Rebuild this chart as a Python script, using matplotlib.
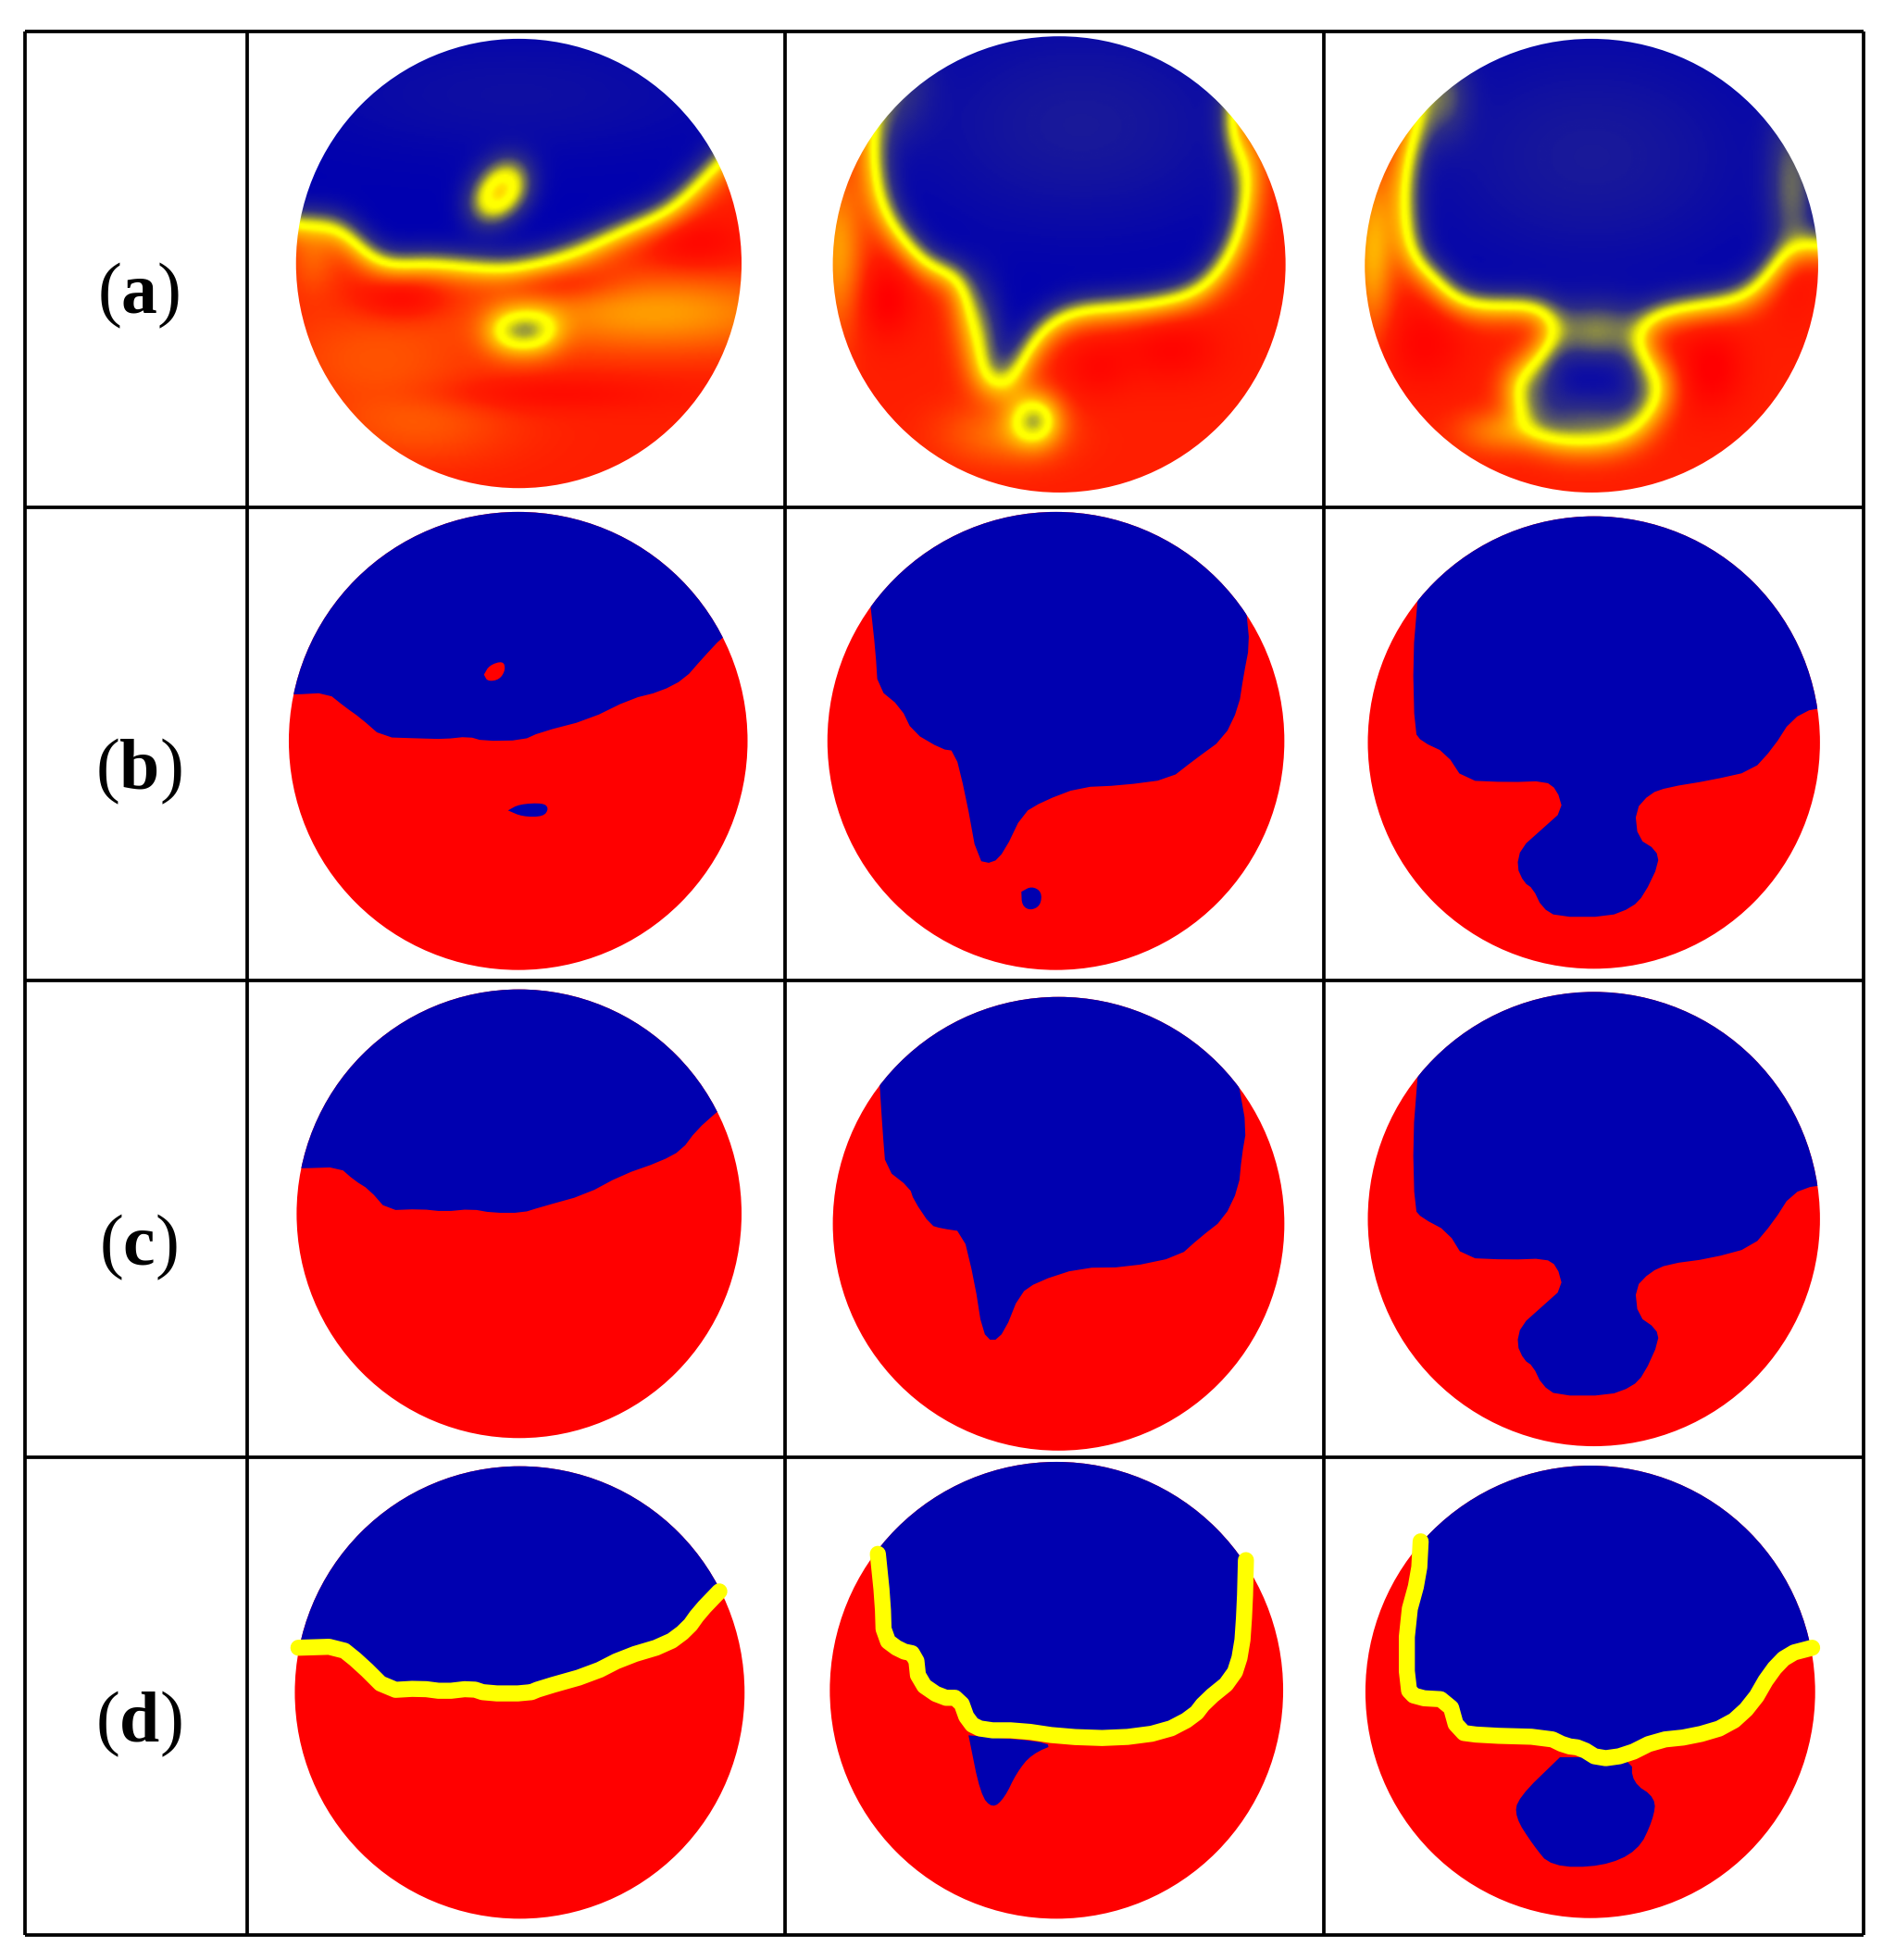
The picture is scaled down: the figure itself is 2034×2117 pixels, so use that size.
import numpy as np
import matplotlib
matplotlib.use("Agg")
import matplotlib.pyplot as plt
from matplotlib.patches import Ellipse, Polygon
from matplotlib.path import Path
from matplotlib.colors import LinearSegmentedColormap

plt.rcParams['mathtext.fontset'] = 'custom'
plt.rcParams['mathtext.rm'] = 'Liberation Serif'
plt.rcParams['mathtext.bf'] = 'Liberation Serif:bold'
plt.rcParams['font.family'] = ['Liberation Serif']

W_UNITS, H_UNITS = 3136, 3132   # picture measured in reading units
HALF = 1568

ROW_LABELS = ['a', 'b', 'c', 'd']
LABEL_Y = [473, 1233, 1993, 2755]
LABEL_X = 231
GRID_X = [41, 412, 1308, 2205, 3103]
GRID_Y = [50, 810, 1567, 2328, 3092]

# disc extents: x0, x1, y0, y1 per row and column
DISCS = [
    [(493, 1235, 62, 780), (1387, 2141, 58, 787), (2273, 3028, 62, 787)],
    [(481, 1245, 818, 1550), (1378, 2139, 818, 1550), (2278, 3031, 825, 1548)],
    [(494, 1235, 1581, 2298), (1387, 2139, 1593, 2318), (2278, 3031, 1585, 2311)],
    [(491, 1240, 2343, 3066), (1382, 2137, 2336, 3066), (2274, 3023, 2342, 3065)],
]


def shift(points, dx=0, dy=0):
    return [(x + dx, y + dy) for x, y in points]


# ---- boundary traces -------------------------------------------------------
A1 = [(300, 355), (497, 355), (555, 355), (580, 380), (635, 430), (700, 422), (760, 425),
      (800, 430), (870, 430), (960, 405), (1040, 370), (1110, 345), (1150, 310), (1195, 265), (1300, 170)]
A2 = [(1450, 240), (1465, 340), (1530, 420), (1568, 440)] + shift(
    [(30, 430), (45, 530), (65, 625), (90, 632), (120, 610), (150, 550), (190, 510), (235, 497),
     (300, 495), (380, 485), (440, 465), (490, 400), (510, 330), (520, 260), (500, 210)], HALF)
A3 = shift([(790, 190), (770, 260), (768, 340), (780, 420), (820, 445), (850, 485), (900, 492),
            (1000, 490), (1020, 520), (1000, 560), (950, 600), (945, 630), (970, 680), (1010, 708),
            (1100, 712), (1160, 695), (1200, 650), (1210, 600), (1165, 560), (1165, 525), (1200, 500),
            (1260, 492), (1340, 480), (1380, 440), (1420, 400), (1460, 395), (1560, 395)], HALF)

B1 = [(400, 1110), (488, 1110), (545, 1107), (575, 1130), (600, 1147), (637, 1178), (700, 1180),
      (740, 1181), (780, 1177), (805, 1184), (870, 1183), (900, 1170), (980, 1150), (1050, 1117),
      (1100, 1105), (1140, 1085), (1170, 1052), (1203, 1018), (1290, 950)]
B1_RED = [(806, 1078), (815, 1063), (838, 1056), (842, 1070), (832, 1086), (812, 1089)]
B1_BLUE = [(846, 1295), (865, 1285), (905, 1283), (914, 1292), (905, 1305), (870, 1305)]
B2 = [(1450, 970), (1458, 1040), (1462, 1100), (1500, 1130), (1520, 1170), (1568, 1197)] + shift(
    [(22, 1200), (40, 1270), (60, 1375), (85, 1380), (105, 1360), (135, 1300), (170, 1280), (230, 1258),
     (300, 1255), (380, 1245), (420, 1215), (470, 1180), (495, 1130), (503, 1080), (513, 1030), (508, 980)], HALF)
B2_BLUE = shift([(133, 1425), (150, 1416), (167, 1425), (165, 1447), (148, 1455), (134, 1447)], HALF)
B3 = shift([(793, 958), (785, 1050), (788, 1170), (800, 1185), (840, 1203), (870, 1247), (945, 1250),
            (1005, 1248), (1025, 1262), (1035, 1295), (1000, 1325), (965, 1355), (958, 1385), (970, 1410),
            (985, 1420), (1000, 1450), (1025, 1465), (1110, 1465), (1150, 1450), (1170, 1430), (1195, 1380),
            (1190, 1358), (1160, 1340), (1155, 1295), (1180, 1268), (1210, 1258), (1280, 1247), (1350, 1232),
            (1385, 1195), (1415, 1150), (1455, 1130), (1560, 1125)], HALF)

C1 = shift([(400, 300), (503, 299), (565, 297), (590, 318), (615, 333), (645, 366), (700, 364), (740, 368),
            (785, 364), (820, 370), (870, 370), (900, 361), (975, 341), (1035, 310), (1100, 288), (1135, 270),
            (1160, 238), (1195, 208), (1290, 130)], 0, HALF)
C2 = shift([(1465, 165), (1470, 240), (1475, 300), (1515, 330), (1522, 350), (1550, 390), (1568, 395)], 0, HALF) + shift(
    [(35, 400), (55, 480), (68, 560), (85, 577), (105, 560), (130, 500), (160, 480), (230, 458), (310, 457),
     (395, 440), (430, 410), (470, 380), (495, 330), (500, 280), (508, 235), (495, 165)], HALF, HALF)
C3 = shift([(793, 152), (785, 250), (788, 365), (800, 378), (843, 400), (870, 442), (945, 445), (1005, 443),
            (1025, 455), (1035, 490), (1000, 520), (965, 550), (958, 580), (970, 605), (985, 615), (1000, 645),
            (1025, 662), (1110, 662), (1150, 648), (1170, 628), (1195, 575), (1190, 555), (1160, 535), (1155, 490),
            (1180, 465), (1210, 452), (1280, 443), (1350, 425), (1385, 385), (1415, 340), (1457, 325), (1560, 320)],
           HALF, HALF)

D1 = shift([(497, 1065), (565, 1063), (600, 1090), (645, 1133), (700, 1130), (740, 1135), (785, 1130), (810, 1138),
            (880, 1138), (900, 1130), (985, 1107), (1040, 1080), (1110, 1060), (1145, 1035), (1165, 1008), (1198, 975)],
           0, HALF)
D2 = shift([(1462, 915), (1470, 990), (1472, 1050), (1500, 1070), (1525, 1075), (1530, 1120), (1568, 1145)], 0, HALF) + shift(
    [(30, 1145), (45, 1185), (70, 1197), (130, 1197), (200, 1207), (290, 1210), (370, 1200), (420, 1175), (440, 1150),
     (485, 1115), (500, 1070), (505, 1000), (507, 925)], HALF, HALF)
D2_WEDGE = shift([(45, 1205), (65, 1300), (85, 1322), (105, 1305), (125, 1265), (150, 1235), (195, 1217)], HALF, HALF)
D3 = shift([(798, 895), (795, 950), (775, 1020), (775, 1130), (790, 1145), (845, 1148), (860, 1200), (900, 1205),
            (1010, 1208), (1040, 1222), (1065, 1225), (1095, 1243), (1140, 1237), (1190, 1213), (1250, 1207),
            (1310, 1190), (1350, 1155), (1380, 1105), (1410, 1075), (1450, 1065)], HALF, HALF)
D3_BLOB = shift([(1030, 1240), (960, 1305), (955, 1335), (985, 1380), (1015, 1415), (1100, 1415), (1160, 1390),
                 (1185, 1340), (1190, 1305), (1150, 1280), (1150, 1240)], HALF, HALF)

# islands of the smooth maps in row (a)
A1_RED = [(790, 350), (798, 310), (812, 290), (845, 262), (870, 265), (866, 308), (848, 328), (815, 348)]
A1_BLUE = [(805, 530), (840, 510), (905, 510), (935, 528), (905, 550), (840, 552)]
A2_BLUE = shift([(125, 660), (138, 644), (155, 638), (172, 644), (185, 660), (185, 685), (172, 698), (155, 704),
                 (138, 698), (125, 685)], HALF)

# soft patches of row (a): x, y, x spread, y spread, change
A1_PATCHES = [(860, 150, 250, 70, 0.06), (1090, 500, 180, 45, -0.30), (620, 570, 120, 60, -0.12), (700, 680, 110, 45, -0.12),
              (670, 475, 50, 25, 0.15), (930, 455, 70, 20, 0.12), (1160, 390, 60, 30, 0.12),
              (900, 630, 150, 20, 0.1), (520, 410, 30, 40, -0.15)]
A2_PATCHES = [(1800, 200, 200, 120, 0.10), (1395, 400, 30, 90, -0.30), (1475, 480, 35, 45, 0.15), (1668, 695, 70, 35, -0.2),
              (2062, 200, 22, 60, 0.2), (1490, 130, 40, 60, 0.18), (1825, 590, 40, 35, 0.1), (1950, 560, 60, 40, 0.12),
              (1640, 540, 25, 60, 0.16)]
A3_PATCHES = [(2650, 250, 200, 130, 0.10), (2405, 150, 30, 50, 0.2), (2985, 300, 30, 100, 0.24), (2285, 400, 25, 90, -0.35),
              (2500, 690, 50, 25, -0.25), (2850, 590, 40, 50, 0.15), (2370, 550, 50, 50, 0.12),
              (2658, 530, 60, 35, 0.3), (2640, 665, 75, 28, 0.18), (2560, 610, 30, 35, 0.14), (2740, 610, 30, 35, 0.14)]

BLUE = '#0000b0'
RED = '#ff0000'
YELLOW = '#ffff00'

CMAP_NODES = [(0.0, (0.0, 0.0, 0.69)), (0.10, (0.10, 0.10, 0.60)), (0.18, (0.18, 0.18, 0.52)), (0.30, (0.50, 0.50, 0.30)),
              (0.40, (0.86, 0.86, 0.06)), (0.47, (1.0, 1.0, 0.0)), (0.54, (1.0, 1.0, 0.0)), (0.64, (1.0, 0.72, 0.0)),
              (0.78, (1.0, 0.48, 0.0)), (1.0, (1.0, 0.12, 0.0)), (1.15, (1.0, 0.0, 0.0))]
VMAX = 1.15
CMAP = LinearSegmentedColormap.from_list('field', [(v / VMAX, c) for v, c in CMAP_NODES])
SIGMA = 26.0
CELL = 3.0


def soften(points, rounds=1):
    """Round the corners of a traced outline (corner cutting)."""
    pts = np.asarray(points, float)
    for _ in range(rounds):
        q = 0.75 * pts[:-1] + 0.25 * pts[1:]
        r = 0.25 * pts[:-1] + 0.75 * pts[1:]
        mid = np.empty((2 * len(q), 2))
        mid[0::2] = q
        mid[1::2] = r
        pts = np.vstack([pts[0], mid, pts[-1]])
    return [tuple(p) for p in pts]


def soften_loop(points, rounds=2):
    p = list(points) + [points[0]]
    return soften(p, rounds)


def blur(arr, sigma):
    half = int(3 * sigma)
    xs = np.arange(-half, half + 1)
    kernel = np.exp(-0.5 * (xs / sigma) ** 2)
    kernel /= kernel.sum()
    pad = np.pad(arr, half, mode='edge')
    pad = np.apply_along_axis(lambda v: np.convolve(v, kernel, mode='same'), 0, pad)
    pad = np.apply_along_axis(lambda v: np.convolve(v, kernel, mode='same'), 1, pad)
    return pad[half:-half, half:-half]


def closed_region(line, top):
    return list(line) + [(line[-1][0], top), (line[0][0], top)]


fig = plt.figure(figsize=(20.34, 21.17), dpi=100, facecolor='white')
ax = fig.add_axes([0, 0, 1, 1])
ax.set_axis_off()


def disc_clip(box):
    x0, x1, y0, y1 = box
    e = Ellipse(((x0 + x1) / 2, (y0 + y1) / 2), x1 - x0, y1 - y0, fc='none', ec='none')
    ax.add_patch(e)
    return e


def smooth_panel(box, line, islands, patches):
    x0, x1, y0, y1 = box
    gx = np.arange(x0 - 10, x1 + 10, CELL)
    gy = np.arange(y0 - 10, y1 + 10, CELL)
    xx, yy = np.meshgrid(gx, gy)
    pts = np.column_stack([xx.ravel(), yy.ravel()])
    blue = Path(closed_region(soften(line), y0 - 400)).contains_points(pts).reshape(xx.shape)
    field = np.where(blue, 0.0, 1.0)
    for poly, val in islands:
        inside = Path(poly).contains_points(pts).reshape(xx.shape)
        field[inside] = val
    field = blur(field, SIGMA / CELL)
    for px, py, sx, sy, d in patches:
        field = field + d * np.exp(-0.5 * (((xx - px) / sx) ** 2 + ((yy - py) / sy) ** 2))
    im = ax.imshow(field, extent=(gx[0], gx[-1], gy[-1], gy[0]), cmap=CMAP, vmin=0, vmax=VMAX,
                   aspect='auto', interpolation='bilinear', zorder=1)
    im.set_clip_path(disc_clip(box))


def flat_panel(box, line, blue_extra=(), red_extra=()):
    clip = disc_clip(box)
    ax.add_patch(Ellipse(clip.center, clip.width, clip.height, fc=RED, ec='none', zorder=1))
    p = Polygon(closed_region(soften(line), box[2] - 100), closed=True, fc=BLUE, ec='none', zorder=2)
    ax.add_patch(p)
    p.set_clip_path(clip)
    for poly in red_extra:
        q = Polygon(soften_loop(poly), closed=True, fc=RED, ec='none', zorder=3)
        ax.add_patch(q)
        q.set_clip_path(clip)
    for poly in blue_extra:
        q = Polygon(soften_loop(poly), closed=True, fc=BLUE, ec='none', zorder=3)
        ax.add_patch(q)
        q.set_clip_path(clip)


smooth_panel(DISCS[0][0], A1, [(A1_RED, 1.0), (A1_BLUE, 0.0)], A1_PATCHES)
smooth_panel(DISCS[0][1], A2, [(A2_BLUE, 0.0)], A2_PATCHES)
smooth_panel(DISCS[0][2], A3, [], A3_PATCHES)

flat_panel(DISCS[1][0], B1, blue_extra=[B1_BLUE], red_extra=[B1_RED])
flat_panel(DISCS[1][1], B2, blue_extra=[B2_BLUE])
flat_panel(DISCS[1][2], B3)

flat_panel(DISCS[2][0], C1)
flat_panel(DISCS[2][1], C2)
flat_panel(DISCS[2][2], C3)

flat_panel(DISCS[3][0], D1)
flat_panel(DISCS[3][1], D2, blue_extra=[D2_WEDGE])
flat_panel(DISCS[3][2], D3, blue_extra=[D3_BLOB])

for line in (D1, D2, D3):
    xs, ys = zip(*soften(line))
    ax.plot(xs, ys, color=YELLOW, lw=12.5, solid_capstyle='round', solid_joinstyle='round', zorder=5)

ax.vlines(GRID_X, GRID_Y[0], GRID_Y[-1], color='black', lw=2.7, zorder=6)
ax.hlines(GRID_Y, GRID_X[0], GRID_X[-1], color='black', lw=2.7, zorder=6)

for name, y in zip(ROW_LABELS, LABEL_Y):
    ax.text(LABEL_X, y, '($\\mathbf{%s}$)' % name, fontsize=56, ha='center', va='center', color='black')

ax.set_xlim(0, W_UNITS)
ax.set_ylim(H_UNITS, 0)
fig.savefig('out.png', dpi=100, facecolor='white')
